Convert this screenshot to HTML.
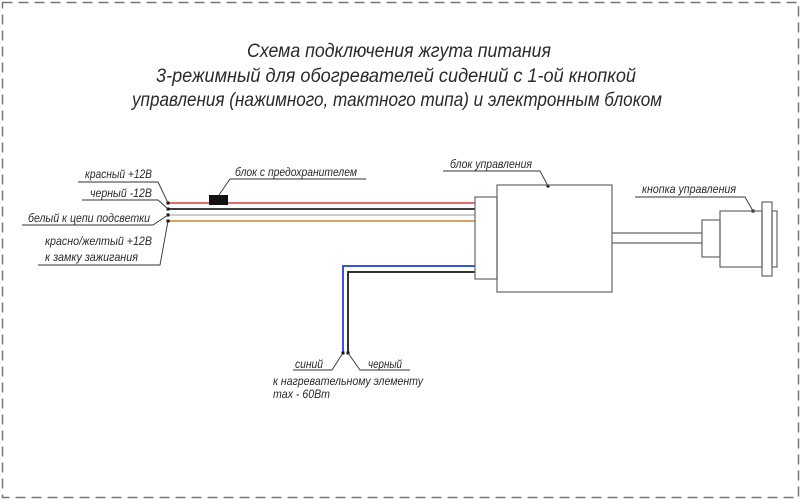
<!DOCTYPE html>
<html><head><meta charset="utf-8"><style>
html,body{margin:0;padding:0;background:#fff;}
svg{display:block;}
text{font-family:"Liberation Sans","DejaVu Sans",sans-serif;font-style:italic;fill:#2a2a2a;}
</style></head><body>
<svg width="801" height="500" viewBox="0 0 801 500" xmlns="http://www.w3.org/2000/svg">
<rect x="2.5" y="2.5" width="796" height="495" fill="none" stroke="#777" stroke-width="1.5" stroke-dasharray="10 6"/>

<!-- Title -->
<text x="247" y="57" font-size="19" textLength="304" lengthAdjust="spacingAndGlyphs">Схема подключения жгута питания</text>
<text x="156" y="82" font-size="19" textLength="480" lengthAdjust="spacingAndGlyphs">3-режимный для обогревателей сидений с 1-ой кнопкой</text>
<text x="132" y="106" font-size="19" textLength="530" lengthAdjust="spacingAndGlyphs">управления (нажимного, тактного типа) и электронным блоком</text>

<!-- wires -->
<line x1="168" y1="203" x2="475" y2="203" stroke="#d83a3a" stroke-width="1.6"/>
<line x1="168" y1="209" x2="475" y2="209" stroke="#222" stroke-width="1.8"/>
<line x1="168" y1="215" x2="475" y2="215" stroke="#c4c4c4" stroke-width="1.8"/>
<line x1="168" y1="221" x2="475" y2="221" stroke="#d49450" stroke-width="1.8"/>
<polyline points="475,266 343,266 343,353" fill="none" stroke="#3a55dd" stroke-width="2"/>
<polyline points="475,272 348,272 348,353" fill="none" stroke="#333" stroke-width="2"/>

<!-- fuse -->
<rect x="209" y="195" width="19" height="10" fill="#111"/>

<!-- dots -->
<g fill="#111">
<rect x="166.5" y="201.5" width="3" height="3"/>
<rect x="166.5" y="207.5" width="3" height="3"/>
<rect x="166.5" y="213.5" width="3" height="3"/>
<rect x="166.5" y="219.5" width="3" height="3"/>
<rect x="341.5" y="351.5" width="3" height="3"/>
<rect x="346.5" y="351.5" width="3" height="3"/>
<rect x="546.5" y="184.5" width="3" height="3"/>
<rect x="751.5" y="209.5" width="3" height="3"/>
</g>

<!-- boxes -->
<g fill="none" stroke="#666" stroke-width="1.2">
<rect x="475" y="197" width="22" height="82"/>
<rect x="497" y="185" width="115" height="107"/>
<line x1="612" y1="233" x2="702" y2="233"/>
<line x1="612" y1="243" x2="702" y2="243"/>
<rect x="702" y="220" width="18" height="37"/>
<rect x="720" y="211" width="42" height="56"/>
<rect x="762" y="202" width="10" height="74"/>
<rect x="772" y="211" width="5" height="56"/>
</g>

<!-- leader lines & underlines -->
<g fill="none" stroke="#333" stroke-width="0.9">
<polyline points="78,182 158,182 168,203"/>
<polyline points="82,200 158,200 168,209"/>
<polyline points="22,225 153,225 168,215"/>
<polyline points="38,265 160,265 168,221"/>
<polyline points="366,179 230,179 219,195"/>
<polyline points="443,171 540,171 548,186"/>
<polyline points="635,197 745,197 753,211"/>
<polyline points="293,370 332,370 343,353"/>
<polyline points="410,370 360,370 348,353"/>
</g>

<!-- labels -->
<g font-size="12">
<text x="85" y="178" textLength="67" lengthAdjust="spacingAndGlyphs">красный +12В</text>
<text x="90" y="197" textLength="62" lengthAdjust="spacingAndGlyphs">черный -12В</text>
<text x="28" y="222" textLength="122" lengthAdjust="spacingAndGlyphs">белый к цепи подсветки</text>
<text x="45" y="245" textLength="107" lengthAdjust="spacingAndGlyphs">красно/желтый +12В</text>
<text x="45" y="261" textLength="93" lengthAdjust="spacingAndGlyphs">к замку зажигания</text>
<text x="235" y="176" textLength="122" lengthAdjust="spacingAndGlyphs">блок с предохранителем</text>
<text x="450" y="168" textLength="82" lengthAdjust="spacingAndGlyphs">блок управления</text>
<text x="642" y="193" textLength="94" lengthAdjust="spacingAndGlyphs">кнопка управления</text>
<text x="295" y="368" textLength="28" lengthAdjust="spacingAndGlyphs">синий</text>
<text x="368" y="368" textLength="34" lengthAdjust="spacingAndGlyphs">черный</text>
<text x="273" y="385" textLength="150" lengthAdjust="spacingAndGlyphs">к нагревательному элементу</text>
<text x="273" y="398" textLength="57" lengthAdjust="spacingAndGlyphs">max - 60Вт</text>
</g>
</svg>
</body></html>
